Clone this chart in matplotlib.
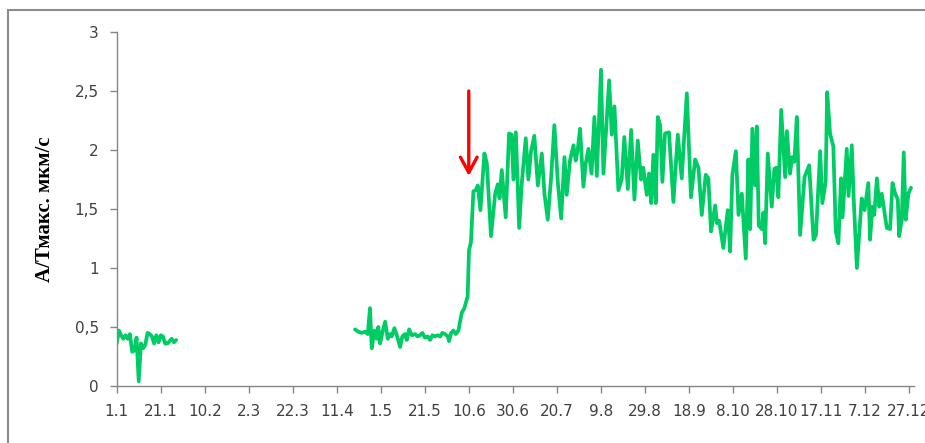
import matplotlib
matplotlib.use("Agg")
import matplotlib.pyplot as plt
from matplotlib.patches import Rectangle

# day of year (0 = 1 Jan) and A/Tmax values
seg1_days = list(range(0, 28))
seg1_vals = [0.36, 0.47, 0.43, 0.40, 0.43, 0.40, 0.44, 0.29, 0.30, 0.41,
             0.04, 0.36, 0.32, 0.35, 0.45, 0.44, 0.42, 0.36, 0.43, 0.37,
             0.43, 0.42, 0.36, 0.36, 0.38, 0.40, 0.37, 0.39]

seg2_days = [108.3, 109.8, 111.4, 112.9, 114.1, 115.1, 115.9, 117.1, 118.2, 118.9,
             119.7, 120.7, 122.0, 123.2, 124.2, 125.0, 126.2, 127.3, 128.8, 129.8,
             131.0, 131.8, 132.9, 134.1, 135.6, 136.8, 137.9, 138.9, 140.1, 141.4,
             142.4, 143.5, 144.7, 145.9, 147.0, 148.0, 149.2, 150.5, 151.0, 152.0,
             153.0, 154.1, 155.3, 156.8, 158.0, 159.5, 160.1, 161.0, 162.1, 163.2,
             164.1, 165.3, 167.1, 168.2, 170.1, 172.0, 173.2, 174.0, 175.0, 176.8,
             178.3, 179.5, 180.3, 181.4, 182.9, 184.1, 185.9, 187.1, 188.3, 189.8,
             191.4, 193.2, 194.4, 195.9, 197.4, 198.9, 200.5, 202.0, 203.5, 204.5,
             206.0, 207.6, 208.6, 209.5, 210.6, 212.1, 213.2, 214.4, 215.8, 217.1,
             218.2, 220.1, 221.2, 223.8, 225.0, 226.2, 228.0, 229.5, 230.7, 232.3,
             233.8, 235.3, 236.8, 238.3, 239.3, 240.9, 241.9, 242.9, 243.9, 245.0,
             245.9, 247.0, 248.0, 249.2, 251.0, 253.0, 255.0, 256.8, 259.1, 261.0,
             262.9, 264.4, 265.9, 267.7, 268.9, 270.1, 272.0, 272.8, 273.8, 275.7,
             277.7, 278.8, 279.8, 281.4, 282.6, 284.1, 285.9, 287.1, 287.9, 288.9,
             290.1, 290.9, 291.8, 293.2, 293.9, 294.7, 295.9, 297.7, 298.9, 299.8,
             300.7, 302.0, 303.8, 304.6, 306.0, 307.0, 308.0, 309.1, 310.6, 312.6,
             314.7, 316.7, 317.8, 319.7, 320.7, 322.2, 322.9, 324.2, 325.7, 326.8,
             328.0, 329.2, 329.9, 331.8, 332.6, 334.1, 334.9, 336.4, 338.6, 339.9,
             341.6, 342.4, 343.4, 344.3, 345.5, 346.6, 347.7, 350.0, 351.5, 352.6,
             353.8, 355.0, 355.6, 356.8, 357.7, 358.6, 359.8, 361.0]
seg2_vals = [0.48, 0.46, 0.45, 0.46, 0.44, 0.66, 0.32, 0.47, 0.40, 0.50,
             0.36, 0.45, 0.545, 0.40, 0.44, 0.42, 0.49, 0.43, 0.33, 0.42,
             0.44, 0.39, 0.48, 0.43, 0.44, 0.42, 0.43, 0.45, 0.41, 0.42,
             0.39, 0.43, 0.42, 0.43, 0.42, 0.45, 0.44, 0.42, 0.38, 0.45,
             0.47, 0.44, 0.47, 0.62, 0.66, 0.76, 1.15, 1.22, 1.65, 1.66,
             1.70, 1.49, 1.97, 1.89, 1.27, 1.63, 1.71, 1.59, 1.83, 1.43,
             2.14, 2.13, 1.75, 2.15, 1.34, 1.72, 2.10, 1.75, 1.99, 2.12,
             1.70, 1.97, 1.63, 1.41, 1.76, 2.21, 1.72, 1.42, 1.94, 1.62,
             1.91, 2.04, 1.91, 2.00, 2.18, 1.69, 1.89, 2.01, 1.80, 2.28,
             1.78, 2.68, 1.80, 2.59, 2.13, 2.37, 1.66, 1.75, 2.11, 1.67,
             2.17, 1.58, 2.08, 1.75, 1.85, 1.62, 1.80, 1.55, 1.96, 1.55,
             2.28, 2.21, 1.73, 2.14, 2.15, 1.56, 2.13, 1.76, 2.48, 1.60,
             1.92, 1.85, 1.45, 1.79, 1.76, 1.31, 1.53, 1.38, 1.40, 1.17,
             1.49, 1.14, 1.79, 1.99, 1.45, 1.63, 1.08, 1.92, 1.33, 2.18,
             1.70, 2.20, 1.36, 1.33, 1.47, 1.21, 1.97, 1.52, 1.84, 1.85,
             1.60, 2.34, 1.77, 2.16, 1.80, 1.94, 1.90, 2.28, 1.28, 1.77,
             1.87, 1.24, 1.28, 1.99, 1.55, 1.73, 2.49, 2.14, 2.03, 1.31,
             1.21, 1.76, 1.43, 2.01, 1.61, 2.04, 1.61, 1.00, 1.59, 1.49,
             1.72, 1.24, 1.52, 1.45, 1.76, 1.52, 1.63, 1.34, 1.33, 1.72,
             1.63, 1.58, 1.27, 1.41, 1.98, 1.41, 1.63, 1.68]

tick_days = list(range(0, 361, 20))
tick_labels = ["1.1", "21.1", "10.2", "2.3", "22.3", "11.4", "1.5", "21.5", "10.6",
               "30.6", "20.7", "9.8", "29.8", "18.9", "8.10", "28.10", "17.11",
               "7.12", "27.12"]
y_ticks = [0, 0.5, 1, 1.5, 2, 2.5, 3]
y_labels = ["0", "0,5", "1", "1,5", "2", "2,5", "3"]

arrow_day = 160
arrow_top, arrow_tip = 2.50, 1.78

GREEN = "#00cc66"
AXIS_GREY = "#868686"

fig = plt.figure(figsize=(9.25, 4.43), dpi=100)
ax = fig.add_axes([0.1262, 0.1287, 0.862, 0.799])

for days, vals in ((seg1_days, seg1_vals), (seg2_days, seg2_vals)):
    ax.plot(days, vals, color=GREEN, lw=2.7, solid_joinstyle="round",
            solid_capstyle="round")

ax.annotate("", xy=(arrow_day, arrow_tip), xytext=(arrow_day, arrow_top),
            arrowprops=dict(arrowstyle="->,head_length=0.55,head_width=0.3",
                            color="#ff0000", lw=2.4, mutation_scale=20,
                            shrinkA=0, shrinkB=0))

ax.set_xlim(0, 362.4)
ax.set_ylim(0, 3)
ax.set_xticks(tick_days)
ax.set_xticklabels(tick_labels)
ax.set_yticks(y_ticks)
ax.set_yticklabels(y_labels)

for side in ("top", "right"):
    ax.spines[side].set_visible(False)
for side in ("left", "bottom"):
    ax.spines[side].set_color(AXIS_GREY)
    ax.spines[side].set_linewidth(1.0)
ax.tick_params(axis="both", direction="out", length=5, width=1.0,
               color=AXIS_GREY, labelcolor="#404040", labelsize=11)
ax.tick_params(axis="x", pad=8)
ax.tick_params(axis="y", pad=8)

fig.text(45 / 925, 0.528, "А/Тмакс. мкм/с", rotation=90, ha="center",
         va="center", fontsize=15, fontweight="bold", family="Liberation Serif")

# outer chart frame, cut off at the right and bottom like the screenshot
fig.patches.append(Rectangle((8.3 / 925, -0.1), 1.2, (443 - 10) / 443 + 0.1,
                             transform=fig.transFigure, fill=False,
                             edgecolor="#8c8c8c", lw=1.5))

fig.savefig("out.png", dpi=100)
plt.close(fig)
